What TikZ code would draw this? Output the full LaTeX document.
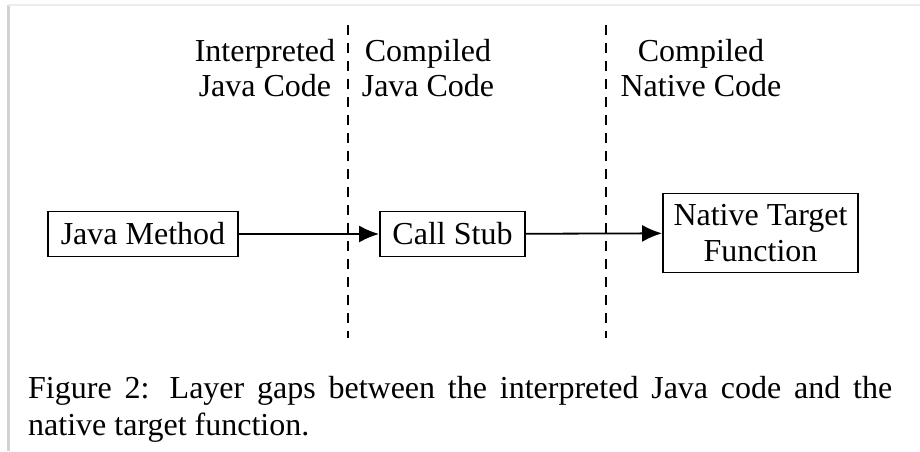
\documentclass[tikz,border=0pt]{standalone}
\usepackage{fontspec}
\setmainfont{Liberation Serif}
\usetikzlibrary{arrows.meta}
\begin{document}
\begin{tikzpicture}[x=1pt,y=-1pt,
  lbl/.style={font=\fontsize{32}{35}\selectfont, align=center, inner sep=0pt, anchor=base},
  box/.style={draw, line width=1.8pt, font=\fontsize{32}{36}\selectfont, align=center, inner sep=0pt},
  sep/.style={dashed, dash pattern=on 10pt off 8pt, line width=1.5pt},
  conn/.style={line width=1.8pt, -{Latex[length=20pt,width=17pt]}}
]
\useasboundingbox (0,0) rectangle (920,451);
\fill[white] (0,0) rectangle (920,451);
% screenshot frame
\draw[gray!35, line width=3pt] (8,5) -- (8,451);
\draw[gray!15, line width=1.5pt] (8,5) -- (920,5);
% separators
\coordinate (s1t) at (348,25); \coordinate (s1b) at (348,338);
\coordinate (s2t) at (606,25); \coordinate (s2b) at (606,338);
\draw[sep] (s1t) -- (s1b);
\draw[sep] (s2t) -- (s2b);
% labels (base anchor = last line baseline)
\node[lbl] (l1) at (265,96) {Interpreted\\Java Code};
\node[lbl] (l2) at (428,96) {Compiled\\Java Code};
\node[lbl] (l3) at (701,96) {Compiled\\Native Code};
% boxes
\node[box, minimum width=190pt, minimum height=45pt] (jm) at (143,234) {Java Method};
\node[box, minimum width=145pt, minimum height=45pt] (cs) at (452.5,234) {Call Stub};
\node[box, minimum width=195pt, minimum height=79pt] (nt) at (760.5,233) {Native Target\\Function};
\draw[conn] (jm) -- (cs);
\draw[conn] (cs) -- (nt);
% caption
\node[font=\fontsize{32}{37}\selectfont, text width=864pt, align=justify, inner sep=0pt, anchor=base west] (cap) at (28,398) {\hyphenpenalty=10000 \exhyphenpenalty=10000 Figure 2: Layer gaps between the interpreted Java code and the\linebreak native target function.};
\end{tikzpicture}
\end{document}
